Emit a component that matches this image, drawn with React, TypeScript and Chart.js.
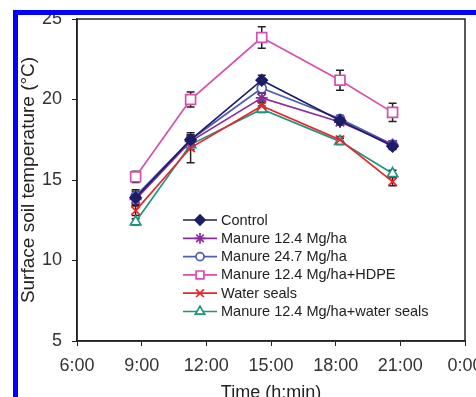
import React, { useEffect, useRef } from "react";
import { Chart, registerables } from "chart.js";
import { drawPoint } from "chart.js/helpers";

Chart.register(...registerables);

// ---- data ----
const times = [8.72, 11.27, 14.57, 18.2, 20.64];
const tickHours = [6, 9, 12, 15, 18, 21, 24];
const tickLabels = ["6:00", "9:00", "12:00", "15:00", "18:00", "21:00", "0:00"];

const seriesNames = [
  "Control",
  "Manure 12.4 Mg/ha",
  "Manure 24.7 Mg/ha",
  "Manure 12.4 Mg/ha+HDPE",
  "Water seals",
  "Manure 12.4 Mg/ha+water seals",
];
const control = [13.9, 17.5, 21.2, 18.7, 17.1];
const manure124 = [13.8, 17.4, 20.1, 18.6, 17.2];
const manure247 = [14.0, 17.5, 20.7, 18.8, 17.2];
const hdpe = [15.2, 20.0, 23.85, 21.2, 19.2];
const waterSeals = [13.1, 17.0, 19.6, 17.5, 14.9];
const manureWater = [12.4, 17.2, 19.4, 17.4, 15.4];

const controlErr = [0.5, 0.3, 0.3, 0.2, 0.2];
const manure124Err = [0.3, 0.3, 0.3, 0.2, 0.2];
const manure247Err = [0.3, 0.3, 0.3, 0.2, 0.2];
const hdpeErr = [0.35, 0.47, 0.67, 0.62, 0.57];
const waterSealsErr = [0.3, 0.93, 0.3, 0.2, 0.25];
const manureWaterErr = [0.2, 0.3, 0.2, 0.2, 0.2];

const values = [control, manure124, manure247, hdpe, waterSeals, manureWater];
const errors = [controlErr, manure124Err, manure247Err, hdpeErr, waterSealsErr, manureWaterErr];
const colors = ["#1b1d66", "#8a2c9e", "#4d5cb4", "#d64eae", "#e8262a", "#1f957c"];
const fills = ["#1b1d66", "#8a2c9e", "#ffffff", "#ffffff", "#e8262a", "#ffffff"];
const styles = ["rectRot", "star", "circle", "rect", "crossRot", "triangle"];
const radii = [5.5, 6, 4.5, 7, 6, 6];

const FONT = "Arial, 'Liberation Sans', Helvetica, sans-serif";

const errorBarPlugin = {
  id: "errorBars",
  beforeDatasetsDraw(chart: any) {
    const { ctx, scales } = chart;
    const xs = scales.x;
    const ys = scales.y;
    ctx.save();
    ctx.strokeStyle = "#222";
    ctx.lineWidth = 1.5;
    values.forEach((vals, si) => {
      vals.forEach((v, i) => {
        const e = errors[si][i];
        const x = xs.getPixelForValue(times[i]);
        const y1 = ys.getPixelForValue(v + e);
        const y2 = ys.getPixelForValue(v - e);
        ctx.beginPath();
        ctx.moveTo(x, y1);
        ctx.lineTo(x, y2);
        ctx.moveTo(x - 4, y1);
        ctx.lineTo(x + 4, y1);
        ctx.moveTo(x - 4, y2);
        ctx.lineTo(x + 4, y2);
        ctx.stroke();
      });
    });
    ctx.restore();
  },
};

const framePlugin = {
  id: "frame",
  afterDraw(chart: any) {
    const { ctx, chartArea: a } = chart;
    ctx.save();
    ctx.strokeStyle = "#222";
    ctx.lineWidth = 1.5;
    ctx.strokeRect(a.left, a.top, a.right - a.left, a.bottom - a.top);
    ctx.restore();
  },
};

const legendPlugin = {
  id: "customLegend",
  afterDatasetsDraw(chart: any) {
    const { ctx, chartArea: a } = chart;
    const x0 = a.left + 106;
    const y0 = a.top + 201;
    const step = 18.3;
    ctx.save();
    seriesNames.forEach((name, i) => {
      const y = y0 + i * step;
      ctx.strokeStyle = colors[i];
      ctx.lineWidth = 1.7;
      ctx.beginPath();
      ctx.moveTo(x0, y);
      ctx.lineTo(x0 + 34, y);
      ctx.stroke();
      ctx.fillStyle = fills[i];
      drawPoint(
        ctx,
        {
          pointStyle: styles[i],
          radius: i === 3 ? 5.5 : radii[i] * 0.9,
          rotation: 0,
          borderWidth: 1.6,
        } as any,
        x0 + 17,
        y
      );
      ctx.fillStyle = "#222";
      ctx.font = `14.5px ${FONT}`;
      ctx.textBaseline = "middle";
      ctx.textAlign = "left";
      ctx.fillText(name, x0 + 38, y + 0.5);
    });
    ctx.restore();
  },
};

export default function App() {
  const ref = useRef<HTMLCanvasElement>(null);

  useEffect(() => {
    const canvas = ref.current;
    if (!canvas) return;
    const chart = new Chart(canvas, {
      type: "line",
      data: {
        datasets: seriesNames.map((name, i) => ({
          label: name,
          data: values[i].map((v, j) => ({ x: times[j], y: v })),
          borderColor: colors[i],
          backgroundColor: fills[i],
          pointBorderColor: colors[i],
          pointBackgroundColor: fills[i],
          pointStyle: styles[i] as any,
          pointRadius: radii[i],
          pointBorderWidth: 1.7,
          borderWidth: 1.7,
          tension: 0,
        })),
      },
      options: {
        animation: false,
        responsive: false,
        maintainAspectRatio: false,
        layout: { padding: { left: 0, top: 19, right: 11, bottom: 0 } },
        plugins: {
          legend: { display: false },
          tooltip: { enabled: false },
        },
        scales: {
          x: {
            type: "linear",
            min: 6,
            max: 24,
            ticks: {
              stepSize: 3,
              autoSkip: false,
              maxRotation: 0,
              padding: 9,
              color: "#333",
              font: { family: FONT, size: 18 },
              callback: (v: any) => {
                const k = tickHours.indexOf(Number(v));
                return k >= 0 ? tickLabels[k] : "";
              },
            },
            grid: { drawOnChartArea: false, drawTicks: true, tickLength: 5, color: "#222", lineWidth: 1 },
            border: { display: true, color: "#222", width: 1.5 },
            title: {
              display: true,
              text: "Time (h:min)",
              color: "#222",
              font: { family: FONT, size: 18, lineHeight: 0.47 },
              padding: { top: 0, bottom: 0 },
            },
            afterFit: (s: any) => {
              s.height = 56;
              s.paddingLeft = 0;
              s.paddingRight = 0;
            },
          },
          y: {
            min: 5,
            max: 25,
            ticks: {
              stepSize: 5,
              padding: 10,
              color: "#333",
              font: { family: FONT, size: 18 },
            },
            grid: { drawOnChartArea: false, drawTicks: true, tickLength: 5, color: "#222", lineWidth: 1 },
            border: { display: true, color: "#222", width: 1.5 },
            title: {
              display: true,
              text: "Surface soil temperature (°C)",
              color: "#222",
              font: { family: FONT, size: 19, lineHeight: 1.2 },
              padding: { top: 17, bottom: 0 },
            },
            afterFit: (s: any) => {
              s.width = 77;
              s.paddingTop = 0;
              s.paddingBottom = 0;
            },
          },
        },
      },
      plugins: [errorBarPlugin, framePlugin, legendPlugin],
    });
    return () => chart.destroy();
  }, []);

  return (
    <div style={{ position: "fixed", left: 0, top: 0, width: 476, height: 397, background: "#fff", overflow: "hidden" }}>
      <canvas ref={ref} width={476} height={397} style={{ position: "absolute", left: 0, top: 0, width: 476, height: 397 }} />
      <div
        style={{
          position: "absolute",
          left: 13,
          top: 10,
          width: 476 - 13,
          height: 397 - 10,
          borderTop: "5px solid #0000ff",
          borderLeft: "5px solid #0000ff",
          pointerEvents: "none",
          boxSizing: "border-box",
        }}
      />
    </div>
  );
}
